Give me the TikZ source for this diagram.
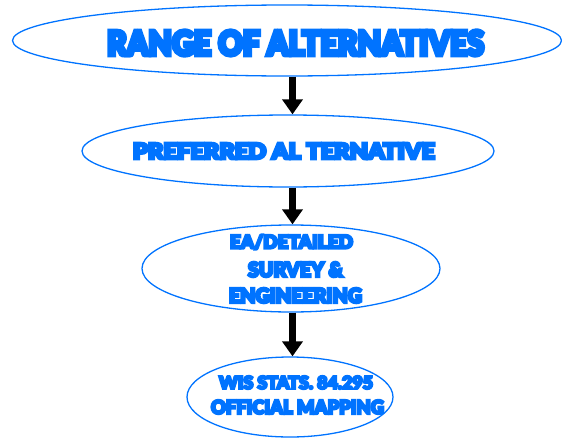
\documentclass[tikz,border=0pt]{standalone}
\usepackage{fontspec}
\usepackage{graphicx}
\newfontfamily\heavy{Lato Black}
\usetikzlibrary{shapes.geometric,arrows.meta}
\definecolor{flowblue}{RGB}{0,115,255}
\tikzset{
  oval/.style={ellipse,draw=flowblue,line width=1.3pt,inner sep=0pt},
  lbl/.style={inner sep=0pt,text=flowblue,anchor=center},
  flowarrow/.style={line width=7pt,-{Triangle[width=20pt,length=15pt]},black}
}
\newcommand{\fitline}[3]{\resizebox{#1pt}{#2pt}{\special{pdf:literal direct 2 Tr 1.2 w}\heavy #3\special{pdf:literal direct 0 Tr}}}
\begin{document}
\begin{tikzpicture}[x=1pt,y=-1pt]
\useasboundingbox (0,0) rectangle (562,439);
\node[oval,minimum width=549pt,minimum height=71pt] (e1) at (287,40.5) {};
\node[oval,minimum width=412pt,minimum height=72pt] (e2) at (288,151) {};
\node[oval,minimum width=298pt,minimum height=87pt] (e3) at (291,268.5) {};
\node[oval,minimum width=206pt,minimum height=80pt] (e4) at (290,397) {};
\node[lbl] (t1) at (295.5,43) {\fitline{377}{25}{RANGE OF ALTERNATIVES}};
\node[lbl] (t2) at (284,151) {\fitline{302}{16}{PREFERRED AL TERNATIVE}};
\node[lbl] (t3a) at (291.5,242) {\fitline{123}{14}{EA/DETAILED}};
\node[lbl] (t3b) at (295.5,269.5) {\fitline{95}{15}{SURVEY \&}};
\node[lbl] (t3c) at (295.5,295.5) {\fitline{133}{15}{ENGINEERING}};
\node[lbl] (t4a) at (296,382.5) {\fitline{154}{13}{WIS STATS. 84.295}};
\node[lbl] (t4b) at (297.5,407) {\fitline{173}{14}{OFFICIAL MAPPING}};
\coordinate (ax) at (292.5,0);
\draw[flowarrow] (e1.south -| ax) -- (e2.north -| ax);
\draw[flowarrow] (e2.south -| ax) -- (e3.north -| ax);
\draw[flowarrow] (e3.south -| ax) -- (e4.north -| ax);
\end{tikzpicture}
\end{document}
